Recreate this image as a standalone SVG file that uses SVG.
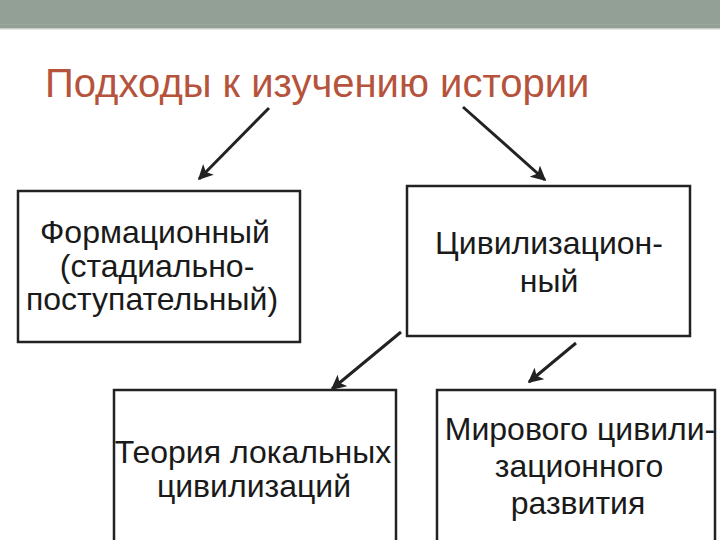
<svg xmlns="http://www.w3.org/2000/svg" width="720" height="540" viewBox="0 0 720 540">
<defs>
<marker id="ah" viewBox="0 0 10 10" refX="9" refY="5" markerWidth="5" markerHeight="5" orient="auto" markerUnits="strokeWidth">
<path d="M0,0 L10,5 L0,10 L2.5,5 z" fill="#222"/>
</marker>
<style>
.box{fill:#fff;stroke:#222;stroke-width:2.5}
.t{font-family:"Liberation Sans",Arial,sans-serif;font-size:32px;fill:#1a1a1a;text-anchor:middle}
.c{stroke:#222;stroke-width:3;fill:none;marker-end:url(#ah)}
</style>
</defs>
<rect x="0" y="0" width="720" height="540" fill="#fff"/>
<rect x="0" y="0" width="720" height="28" fill="#93a095"/>
<rect x="0" y="24" width="720" height="1" fill="#9aa69b"/>
<rect x="0" y="28" width="720" height="1.5" fill="#c9cfc7"/>
<text x="45" y="97" font-family="Liberation Sans,Arial,sans-serif" font-size="40" fill="#b5533c">Подходы к изучению истории</text>
<g id="connectors">
<line class="c" x1="269" y1="108" x2="199" y2="179"/>
<line class="c" x1="463" y1="107" x2="545" y2="180"/>
<line class="c" x1="401" y1="332" x2="332" y2="389"/>
<line class="c" x1="576" y1="343" x2="529" y2="382"/>
</g>
<g id="n1">
<rect class="box" x="18" y="191" width="282" height="151"/>
<text class="t" x="155" y="243">Формационный</text>
<text class="t" x="157" y="277">(стадиально-</text>
<text class="t" x="152" y="310">поступательный)</text>
</g>
<g id="n2">
<rect class="box" x="407" y="186" width="283" height="150"/>
<text class="t" x="549" y="254">Цивилизацион-</text>
<text class="t" x="549" y="292">ный</text>
</g>
<g id="n3">
<rect class="box" x="114" y="390" width="282" height="152"/>
<text class="t" x="253" y="463">Теория локальных</text>
<text class="t" x="254" y="497">цивилизаций</text>
</g>
<g id="n4">
<rect class="box" x="437" y="390" width="278" height="152"/>
<text class="t" x="580" y="440">Мирового цивили-</text>
<text class="t" x="579" y="477">зационного</text>
<text class="t" x="578" y="514">развития</text>
</g>
</svg>
